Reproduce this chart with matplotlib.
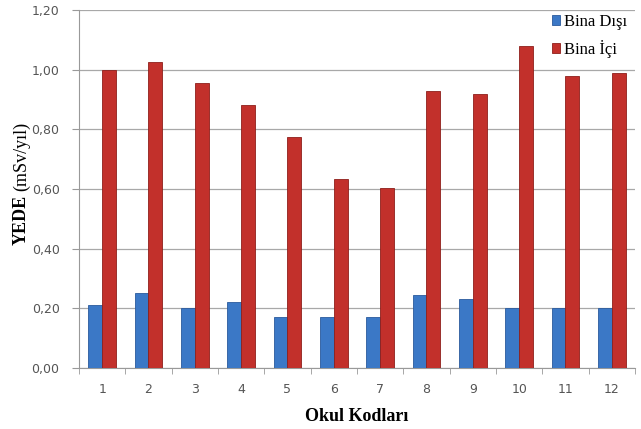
import matplotlib
matplotlib.use("Agg")
import matplotlib.pyplot as plt
import numpy as np

okul_kodlari = ["1", "2", "3", "4", "5", "6", "7", "8", "9", "10", "11", "12"]
bina_disi = [0.21, 0.25, 0.20, 0.22, 0.17, 0.17, 0.17, 0.245, 0.23, 0.20, 0.20, 0.20]
bina_ici = [1.00, 1.025, 0.955, 0.88, 0.775, 0.635, 0.605, 0.93, 0.92, 1.08, 0.98, 0.99]
y_ticks = [0.0, 0.2, 0.4, 0.6, 0.8, 1.0, 1.2]

serif = "Liberation Serif"
blue = "#3b78c6"
red = "#c2302b"

fig = plt.figure(figsize=(6.41, 4.29), dpi=100)
ax = fig.add_axes([0.1232, 0.1422, 0.8674, 0.8345])

x = np.arange(len(okul_kodlari))
w = 0.30
ax.bar(x - w / 2, bina_disi, width=w, color=blue, edgecolor="#2a5a9c", linewidth=0.6, label="Bina Dışı", zorder=3)
ax.bar(x + w / 2, bina_ici, width=w, color=red, edgecolor="#8e1f1b", linewidth=0.6, label="Bina İçi", zorder=3)

ax.set_xlim(-0.5, len(okul_kodlari) - 0.5)
ax.set_ylim(0, 1.2)
ax.set_yticks(y_ticks)
ax.set_yticklabels([f"{v:.2f}".replace(".", ",") for v in y_ticks], color="#555555", fontsize=9)
ax.set_xticks(x)
ax.set_xticklabels(okul_kodlari, color="#555555", fontsize=9)
ax.set_xticks(np.arange(-0.5, len(okul_kodlari)), minor=True)
ax.tick_params(axis="x", which="major", length=0, pad=11)
ax.tick_params(axis="x", which="minor", length=4, color="#999999")
ax.tick_params(axis="y", length=5, color="#999999", pad=9)

ax.grid(axis="y", color="#a8a8a8", linewidth=0.9, zorder=0)
for s in ["top", "right"]:
    ax.spines[s].set_visible(False)
for s in ["left", "bottom"]:
    ax.spines[s].set_color("#999999")

ax.set_xlabel("Okul Kodları", fontfamily=serif, fontweight="bold", fontsize=13)
ax.xaxis.set_label_coords(0.5, -0.112)

# y label: bold part + normal part, placed one after the other
yede = fig.text(0.033, 184 / 429, "YEDE", fontfamily=serif, fontweight="bold", fontsize=13,
                rotation=90, ha="center", va="bottom")
fig.canvas.draw()
bb = yede.get_window_extent()
fig.text(0.033, (bb.y1 + 4) / 429, "(mSv/yıl)", fontfamily=serif, fontsize=13,
         rotation=90, ha="center", va="bottom")

leg = ax.legend(loc="upper right", bbox_to_anchor=(1.0, 1.013), frameon=False, prop={"family": serif, "size": 12},
                handlelength=0.5, handleheight=0.5, handletextpad=0.2, labelspacing=0.6, borderaxespad=0.1)

fig.savefig("out.png", dpi=100)
